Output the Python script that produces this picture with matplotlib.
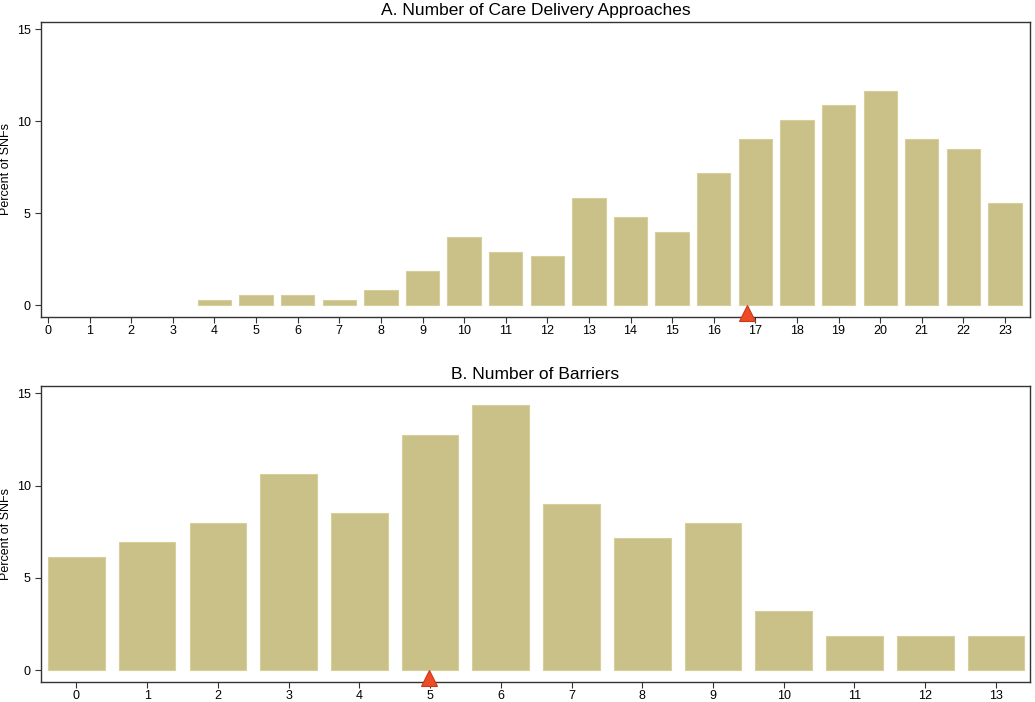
import matplotlib
matplotlib.use("Agg")
import matplotlib.pyplot as plt

plt.rcParams['font.family'] = ['Liberation Sans', 'DejaVu Sans']

# Panel A: number of care delivery approaches
approaches = list(range(0, 24))
approach_pct = [0, 0, 0, 0, 0.25, 0.55, 0.55, 0.25, 0.8, 1.85, 3.7, 2.9, 2.65,
                5.85, 4.78, 3.97, 7.16, 9.02, 10.07, 10.89, 11.67, 9.02, 8.48, 5.56]
approach_mean = 16.8

# Panel B: number of barriers
barriers = list(range(0, 14))
barrier_pct = [6.12, 6.92, 7.98, 10.64, 8.52, 12.77, 14.37, 9.03, 7.18, 7.98,
               3.19, 1.85, 1.85, 1.85]
barrier_mean = 4.98

bar_color = '#C9C188'
edge_color = '#D6CF9C'
mark_color = '#EE4B26'

fig = plt.figure(figsize=(10.35, 7.02), dpi=100)
ax1 = fig.add_axes([0.0396, 0.5484, 0.9555, 0.4203])
ax2 = fig.add_axes([0.0396, 0.0285, 0.9555, 0.4215])

panels = [
    (ax1, approaches, approach_pct, approach_mean, "A. Number of Care Delivery Approaches", (-0.17, 23.6)),
    (ax2, barriers, barrier_pct, barrier_mean, "B. Number of Barriers", (-0.5, 13.48)),
]

for ax, xs, ys, mean, title, xlim in panels:
    edges = [edge_color if v > 0 else 'none' for v in ys]
    ax.bar(xs, ys, width=0.8, color=bar_color, edgecolor=edges, linewidth=0.8)
    ax.plot([mean], [-0.42], marker='^', markersize=11, color=mark_color,
            markeredgecolor='#C8381C', markeredgewidth=0.8, clip_on=False, zorder=5)
    ax.set_xlim(*xlim)
    ax.set_ylim(-0.65, 15.4)
    ax.set_yticks([0, 5, 10, 15])
    ax.set_xticks(xs)
    ax.set_title(title, fontsize=12.5, pad=5)
    ax.set_ylabel("Percent of SNFs", fontsize=9, labelpad=3)
    ax.tick_params(axis='both', labelsize=9, length=4, width=0.8, color='#333333')
    ax.tick_params(axis='x', pad=1.5)
    for sp in ax.spines.values():
        sp.set_color('#333333')
        sp.set_linewidth(1.0)

fig.savefig("out.png", dpi=100)
